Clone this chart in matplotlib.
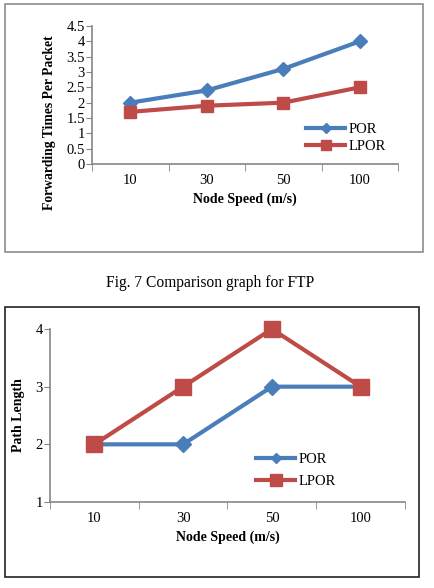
import matplotlib
matplotlib.use('Agg')
import matplotlib.pyplot as plt
from matplotlib.patches import Rectangle

# Data
speeds = ['10', '30', '50', '100']
ftp_por = [2.0, 2.4, 3.1, 4.0]
ftp_lpor = [1.7, 1.9, 2.0, 2.5]
path_por = [2, 2, 3, 3]
path_lpor = [2, 3, 4, 3]
series_names = ['POR', 'LPOR']
caption = 'Fig. 7 Comparison graph for FTP'

blue = '#4a7ebb'
red = '#be4b48'
axis_gray = '#868686'

W, H = 434, 588
plt.rcParams['font.family'] = ['Liberation Serif', 'DejaVu Serif']

fig = plt.figure(figsize=(W / 100, H / 100), dpi=100)


def px_axes(x0, y0, x1, y1):
    # pixel box (top-left origin) -> figure axes
    return fig.add_axes([x0 / W, 1 - y1 / H, (x1 - x0) / W, (y1 - y0) / H])


def px_box(x0, y0, x1, y1, color):
    fig.add_artist(Rectangle((x0 / W, 1 - y1 / H), (x1 - x0) / W, (y1 - y0) / H,
                             transform=fig.transFigure, fill=False,
                             edgecolor=color, linewidth=1.2))


def style_axes(ax, ylim, yticks, ylabel, ylabel_size):
    n = len(speeds)
    ax.set_xlim(-0.5, n - 0.5)
    ax.set_ylim(*ylim)
    ax.set_xticks(range(n))
    ax.set_xticklabels(speeds, fontsize=10.5)
    ax.set_xticks([i - 0.5 for i in range(n + 1)], minor=True)
    ax.tick_params(axis='x', which='major', length=0, pad=7)
    ax.tick_params(axis='x', which='minor', length=5, color=axis_gray, direction='out')
    ax.set_yticks(yticks)
    ax.set_yticklabels([f'{v:g}' for v in yticks], fontsize=10.5)
    ax.tick_params(axis='y', length=4, color=axis_gray, direction='out', pad=1)
    for s in ['top', 'right']:
        ax.spines[s].set_visible(False)
    for s in ['left', 'bottom']:
        ax.spines[s].set_color(axis_gray)
        ax.spines[s].set_linewidth(1.2)
    ax.set_xlabel('Node Speed (m/s)', fontsize=10, fontweight='bold', labelpad=4)
    ax.set_ylabel(ylabel, fontsize=ylabel_size, fontweight='bold')


# Top chart: forwarding times
px_box(5, 4, 423, 252, '#8c8c8c')
ax1 = px_axes(92, 26, 398, 164)
x = range(len(speeds))
ax1.plot(x, ftp_por, color=blue, lw=3, marker='D', ms=7, label=series_names[0], clip_on=False)
ax1.plot(x, ftp_lpor, color=red, lw=3, marker='s', ms=9, label=series_names[1], clip_on=False)
style_axes(ax1, (0, 4.5), [0, 0.5, 1, 1.5, 2, 2.5, 3, 3.5, 4, 4.5],
           'Forwarding Times Per Packet', 9.8)
ax1.yaxis.set_label_coords(-0.118, 0.30)
ax1.legend(loc='center left', bbox_to_anchor=(0.675, 0.19), frameon=False, fontsize=10.5,
           handlelength=2.7, handletextpad=0.2, labelspacing=0.25, borderpad=0,
           markerscale=0.75)

fig.text(210 / W, 1 - 283 / H, caption, ha='center', va='center', fontsize=11.2)

# Bottom chart: path length
px_box(5, 307, 419, 577, '#222222')
ax2 = px_axes(50, 329, 405, 502)
ax2.plot(x, path_por, color=blue, lw=3, marker='D', ms=8, label=series_names[0], clip_on=False)
ax2.plot(x, path_lpor, color=red, lw=3, marker='s', ms=12, label=series_names[1], clip_on=False)
style_axes(ax2, (1, 4), [1, 2, 3, 4], 'Path Length', 10)
ax2.yaxis.set_label_coords(-0.07, 0.5)
ax2.legend(loc='center left', bbox_to_anchor=(0.56, 0.18), frameon=False, fontsize=10.5,
           handlelength=2.7, handletextpad=0.2, labelspacing=0.6, borderpad=0,
           markerscale=0.7)

fig.savefig('out.png', dpi=100)
